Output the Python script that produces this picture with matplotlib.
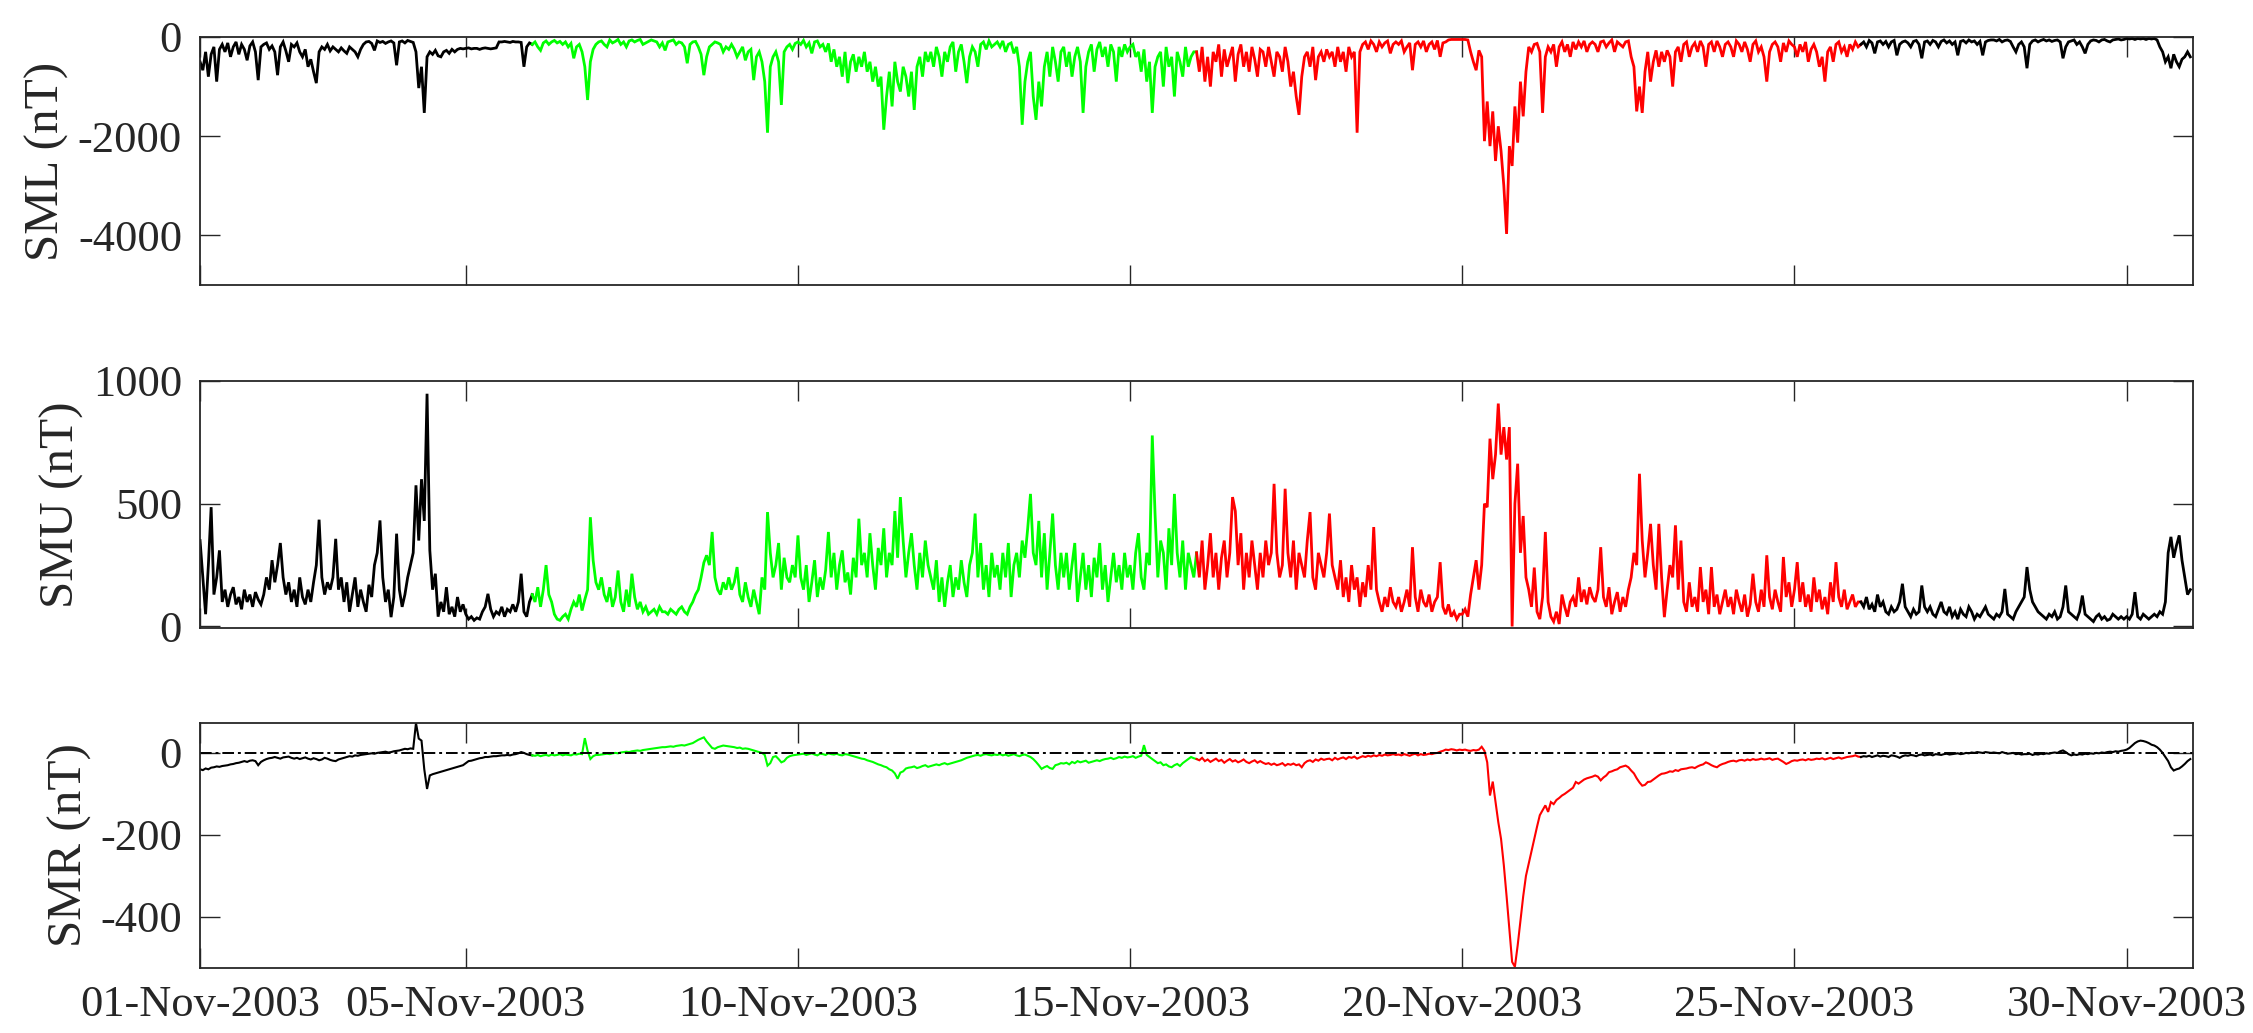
import matplotlib
matplotlib.use("Agg")
import matplotlib.pyplot as plt
import matplotlib.dates as mdates
import numpy as np
import pandas as pd

# ---------------- data (hourly values, one row per day, 01-Nov .. 30-Nov 2003) -------------
SML = [
 [-500,-670,-300,-800,-350,-200,-900,-250,-150,-300,-120,-400,-200,-100,-350,-150,-250,-470,-180,-100,-300,-870,-200,-150],
 [-120,-250,-180,-300,-770,-200,-100,-280,-500,-150,-200,-120,-300,-400,-250,-600,-450,-700,-930,-300,-200,-250,-150,-280],
 [-200,-250,-300,-220,-280,-330,-200,-250,-300,-400,-250,-150,-100,-90,-130,-270,-80,-110,-90,-130,-100,-80,-120,-570],
 [-100,-80,-120,-70,-90,-110,-300,-1030,-600,-1530,-400,-300,-350,-270,-380,-400,-300,-270,-330,-250,-300,-250,-230,-240],
 [-230,-220,-240,-230,-230,-250,-230,-220,-230,-240,-230,-220,-100,-100,-90,-100,-110,-90,-100,-100,-110,-600,-200,-120],
 [-150,-100,-200,-270,-120,-80,-150,-100,-70,-120,-90,-150,-100,-200,-130,-430,-200,-150,-300,-600,-1270,-500,-250,-150],
 [-100,-80,-150,-200,-60,-120,-90,-50,-150,-100,-200,-80,-60,-100,-70,-50,-150,-120,-90,-60,-80,-100,-200,-120],
 [-270,-100,-80,-60,-150,-100,-120,-200,-530,-150,-100,-90,-200,-350,-770,-400,-200,-150,-100,-120,-150,-300,-200,-250],
 [-150,-250,-400,-300,-200,-470,-300,-250,-870,-400,-300,-500,-900,-1930,-600,-400,-300,-500,-1370,-300,-200,-150,-250,-130],
 [-100,-150,-70,-200,-120,-330,-100,-80,-200,-150,-300,-130,-500,-250,-600,-400,-800,-300,-930,-500,-350,-700,-400,-600],
 [-300,-700,-500,-900,-600,-1000,-800,-1870,-1200,-700,-1400,-500,-900,-1100,-600,-800,-1200,-700,-1470,-600,-400,-800,-300,-500],
 [-300,-600,-200,-400,-800,-300,-500,-200,-100,-700,-300,-150,-500,-930,-400,-200,-300,-600,-150,-100,-250,-80,-200,-150],
 [-100,-200,-80,-300,-150,-120,-330,-200,-600,-1770,-900,-500,-300,-1200,-1670,-900,-1400,-600,-300,-800,-200,-500,-900,-300],
 [-200,-600,-300,-800,-400,-200,-500,-1530,-600,-300,-150,-700,-250,-100,-400,-200,-600,-150,-300,-900,-200,-400,-150,-300],
 [-200,-150,-400,-300,-700,-250,-900,-500,-1530,-600,-400,-300,-1000,-200,-600,-400,-1200,-300,-500,-800,-200,-600,-400,-300],
 [-300,-700,-200,-900,-400,-1000,-300,-500,-150,-800,-250,-600,-400,-200,-900,-350,-150,-600,-300,-700,-200,-450,-800,-250],
 [-300,-600,-200,-500,-800,-300,-400,-700,-200,-500,-1000,-700,-1200,-1570,-800,-400,-300,-600,-200,-870,-400,-300,-500,-250],
 [-400,-300,-600,-200,-500,-300,-700,-200,-400,-300,-1930,-300,-150,-100,-250,-80,-150,-300,-100,-200,-120,-80,-330,-150],
 [-100,-150,-80,-300,-200,-120,-670,-150,-100,-200,-80,-300,-150,-100,-250,-70,-400,-120,-100,-60,-50,-50,-50,-50],
 [-50,-50,-60,-300,-500,-670,-270,-400,-2100,-1300,-2200,-1500,-2500,-1800,-2300,-3000,-3970,-2200,-2600,-1400,-2130,-900,-1600,-700],
 [-200,-300,-150,-130,-300,-1530,-400,-200,-300,-150,-600,-200,-100,-300,-150,-400,-100,-250,-100,-200,-80,-300,-150,-100],
 [-150,-300,-100,-80,-200,-120,-60,-300,-100,-150,-200,-100,-80,-400,-600,-1500,-1000,-1530,-700,-300,-900,-500,-270,-600],
 [-300,-500,-270,-400,-1000,-300,-200,-500,-150,-100,-400,-200,-120,-300,-80,-200,-600,-150,-100,-300,-80,-200,-400,-150],
 [-100,-200,-400,-80,-150,-300,-100,-250,-500,-150,-80,-300,-200,-400,-900,-300,-150,-100,-200,-500,-120,-300,-80,-150],
 [-200,-400,-150,-300,-100,-500,-250,-150,-300,-600,-400,-900,-300,-200,-500,-150,-100,-300,-200,-400,-150,-250,-100,-200],
 [-150,-100,-200,-70,-120,-330,-100,-80,-150,-90,-200,-100,-70,-370,-150,-100,-80,-120,-200,-90,-70,-150,-430,-100],
 [-80,-150,-70,-100,-200,-90,-60,-120,-80,-150,-100,-370,-90,-70,-120,-60,-100,-80,-150,-90,-370,-100,-70,-60],
 [-60,-80,-50,-100,-70,-60,-90,-200,-300,-150,-100,-200,-630,-150,-80,-60,-100,-70,-50,-80,-60,-90,-70,-60],
 [-100,-430,-200,-100,-80,-60,-150,-100,-200,-330,-150,-80,-60,-70,-100,-60,-50,-80,-100,-60,-50,-40,-60,-50],
 [-30,-40,-30,-50,-30,-40,-30,-50,-30,-40,-30,-60,-200,-300,-500,-400,-630,-350,-500,-600,-450,-400,-300,-400],
]

SMU = [
 [350,200,50,250,486,130,200,310,100,150,80,130,160,90,120,70,150,100,130,80,140,110,90,130],
 [200,150,270,180,250,340,200,130,180,100,150,80,200,120,90,150,100,180,250,435,200,130,180,150],
 [200,357,150,200,100,180,60,130,200,80,150,100,60,170,120,250,300,432,200,100,150,38,120,378],
 [150,80,130,200,250,300,575,350,600,430,948,310,150,215,40,100,60,160,50,80,40,120,60,90],
 [50,30,40,25,35,30,60,80,133,70,40,60,50,80,40,70,60,90,60,100,215,60,40,100],
 [130,100,160,80,150,250,130,100,50,30,25,40,50,30,70,100,80,130,65,110,150,445,270,180],
 [150,200,130,100,160,80,120,228,100,60,150,80,215,120,70,100,60,80,50,60,70,50,80,60],
 [60,50,70,60,50,70,80,60,50,80,100,130,150,200,260,290,250,385,200,150,130,180,150,200],
 [150,180,242,130,100,180,120,80,150,100,50,200,150,466,300,200,250,340,150,280,200,180,250,200],
 [371,200,150,250,100,180,270,120,200,150,230,385,200,300,150,250,310,180,220,130,280,200,439,250],
 [300,200,380,250,150,320,250,400,200,300,250,470,280,527,350,200,300,380,250,150,300,200,350,250],
 [200,150,270,100,200,80,180,250,120,200,150,270,180,120,250,300,460,200,340,150,250,120,300,200],
 [250,150,300,200,340,120,250,300,200,350,280,400,540,300,250,430,200,380,150,300,460,250,150,300],
 [200,300,150,250,340,100,200,300,150,250,120,280,200,340,150,250,100,200,300,180,250,150,300,200],
 [250,150,300,380,200,150,300,250,778,460,200,350,300,150,400,250,540,300,200,350,150,300,250,200],
 [300,200,350,150,250,380,200,300,150,280,350,200,300,527,470,250,380,150,300,200,350,250,150,300],
 [200,350,250,300,581,300,200,250,561,300,200,350,150,300,250,200,350,466,200,150,300,250,200,300],
 [460,250,200,150,270,120,200,100,250,150,200,80,180,120,250,150,405,150,100,60,120,80,160,100],
 [80,120,60,100,150,80,323,120,60,150,100,80,130,60,100,120,262,80,50,90,40,60,30,50],
 [50,70,40,130,200,270,150,250,500,486,765,600,700,908,700,812,680,812,0,500,663,300,450,200],
 [150,80,240,60,30,120,385,100,40,20,60,10,130,80,40,100,120,80,200,100,150,90,160,120],
 [100,150,323,120,80,160,50,100,140,60,120,80,150,200,300,250,622,350,200,300,418,250,150,418],
 [200,38,150,250,200,412,150,350,100,60,180,80,120,60,242,100,150,50,242,80,130,50,100,150],
 [80,120,50,150,100,60,130,40,90,215,100,60,150,80,290,120,70,150,100,60,283,120,180,80],
 [150,262,100,180,80,130,60,200,100,150,70,120,50,180,100,262,120,80,150,70,100,130,80,100],
 [100,80,120,70,90,60,130,80,100,60,50,80,60,70,100,174,80,60,40,70,50,60,167,80],
 [60,80,50,40,70,100,60,50,80,40,60,30,70,50,40,80,60,30,50,40,60,80,50,40],
 [30,50,40,60,153,50,40,30,60,80,100,120,242,150,100,80,60,50,40,30,50,40,60,30],
 [40,80,167,60,50,40,30,60,126,50,40,30,20,40,50,30,40,25,30,50,40,30,40,30],
 [40,30,50,140,40,30,50,40,30,40,50,40,60,50,100,300,365,280,330,371,270,200,130,150],
]

SMR = [
 [-40,-42,-38,-40,-36,-35,-33,-34,-32,-31,-30,-28,-27,-25,-24,-22,-20,-22,-19,-18,-20,-30,-22,-18],
 [-15,-13,-12,-10,-12,-14,-11,-10,-9,-12,-14,-12,-15,-13,-11,-14,-16,-13,-15,-18,-16,-12,-14,-17],
 [-19,-20,-16,-14,-12,-10,-8,-9,-6,-7,-5,-4,-3,-2,-1,-2,0,1,2,3,1,2,4,5],
 [6,8,10,9,11,10,73,35,30,-40,-88,-55,-52,-50,-48,-46,-44,-42,-40,-38,-36,-34,-32,-30],
 [-25,-20,-19,-17,-15,-13,-12,-10,-10,-9,-8,-8,-7,-6,-6,-5,-6,-4,-3,-1,2,0,-3,-5],
 [-6,-7,-5,-8,-6,-5,-7,-4,-6,-5,-3,-6,-4,-5,-6,-3,-4,-2,-3,36,5,-15,-8,-5],
 [-5,-4,-3,-2,-3,-1,0,-1,1,2,3,2,4,5,6,5,7,8,9,10,11,12,13,14],
 [14,15,16,15,17,18,19,18,20,22,24,28,32,35,38,28,20,12,10,14,16,18,17,16],
 [15,14,12,13,10,11,10,8,6,4,2,0,-5,-31,-25,-10,-8,-15,-23,-20,-12,-8,-6,-5],
 [-4,-3,-2,-5,-3,-1,-4,-6,-2,-3,-5,-1,-3,-4,-2,-5,-6,-3,-4,-6,-8,-10,-12,-14],
 [-15,-18,-20,-22,-25,-28,-30,-33,-35,-40,-43,-50,-63,-48,-45,-38,-36,-35,-33,-37,-35,-32,-30,-34],
 [-32,-30,-28,-30,-27,-25,-28,-26,-24,-22,-20,-18,-15,-12,-10,-8,-6,-5,-7,-4,-3,-5,-6,-4],
 [-5,-3,-6,-4,-7,-5,-3,-6,-8,-5,-4,-7,-10,-15,-22,-30,-39,-35,-32,-37,-39,-30,-28,-25],
 [-26,-24,-28,-22,-25,-20,-23,-21,-19,-24,-22,-20,-18,-20,-17,-15,-14,-12,-15,-13,-10,-12,-9,-11],
 [-10,-8,-12,-9,-7,19,-5,-10,-15,-20,-25,-23,-30,-28,-33,-35,-30,-27,-32,-25,-20,-15,-10,-13],
 [-15,-18,-12,-20,-16,-22,-18,-14,-20,-17,-24,-19,-15,-21,-18,-23,-20,-16,-22,-25,-21,-18,-24,-20],
 [-24,-27,-25,-29,-26,-30,-28,-25,-31,-27,-29,-26,-30,-28,-35,-25,-20,-18,-22,-16,-19,-14,-17,-15],
 [-14,-18,-12,-16,-13,-11,-15,-10,-12,-9,-14,-11,-8,-10,-7,-9,-6,-8,-5,-7,-4,-6,-5,-3],
 [-5,-4,-6,-3,-5,-7,-4,-2,-6,-3,-5,-4,-2,-3,-1,0,3,5,8,7,9,8,6,8],
 [7,8,6,5,7,6,8,15,5,-23,-104,-70,-120,-169,-210,-274,-350,-430,-510,-522,-470,-410,-350,-300],
 [-270,-240,-209,-180,-152,-140,-128,-144,-120,-125,-115,-110,-104,-100,-95,-90,-85,-71,-75,-70,-65,-62,-60,-58],
 [-55,-58,-67,-60,-55,-47,-45,-42,-40,-35,-33,-31,-35,-43,-50,-62,-72,-80,-78,-71,-70,-65,-60,-55],
 [-51,-50,-48,-45,-46,-42,-44,-40,-39,-38,-36,-35,-37,-33,-30,-28,-23,-26,-30,-33,-35,-30,-27,-25],
 [-22,-20,-19,-21,-18,-17,-19,-16,-18,-15,-17,-16,-14,-16,-15,-13,-17,-15,-14,-18,-22,-27,-24,-20],
 [-18,-19,-17,-16,-18,-15,-17,-16,-14,-15,-13,-16,-14,-12,-15,-13,-11,-14,-12,-10,-9,-8,-6,-9],
 [-10,-8,-9,-7,-10,-8,-6,-9,-7,-8,-10,-6,-7,-9,-12,-8,-6,-7,-5,-6,-8,-5,-4,-6],
 [-5,-4,-6,-3,-4,-5,-3,-2,-4,-3,-2,-1,-3,-2,0,-1,1,0,2,1,0,2,1,0],
 [1,0,-1,2,0,-2,-1,0,-3,-2,-4,-3,-3,-2,-5,-3,-4,-2,-3,-1,-2,0,1,0],
 [4,6,2,-3,-6,-4,-5,-3,-4,-2,-3,-1,-2,0,-1,1,0,2,3,2,4,3,5,6],
 [8,12,18,24,28,30,29,27,24,20,18,14,8,0,-10,-20,-35,-43,-40,-38,-33,-27,-20,-15],
]

START = "2003-11-01"
# interval boundaries (colour changes): black / green / red / black
SEG_EDGES = ["2003-11-01", "2003-11-06", "2003-11-16", "2003-11-26", "2003-12-01"]
SEG_COLORS = ["black", "#00ff00", "#ff0000", "black"]
TICK_DATES = ["2003-11-01", "2003-11-05", "2003-11-10", "2003-11-15",
              "2003-11-20", "2003-11-25", "2003-11-30"]
YLABELS = ["SML (nT)", "SMU (nT)", "SMR (nT)"]

# ---------------------------------------------------------------------------------------------
plt.rcParams["font.family"] = ["Liberation Serif", "DejaVu Serif"]
plt.rcParams["axes.unicode_minus"] = False

sml = np.array(SML, dtype=float).ravel()
smu = np.array(SMU, dtype=float).ravel()
smr = np.array(SMR, dtype=float).ravel()
t = pd.date_range(START, periods=len(sml), freq="h")

fig = plt.figure(figsize=(22.53, 10.33), dpi=100)
L, W = 0.0888, 0.8846
axes = [fig.add_axes([L, 0.7241, W, 0.2401]),
        fig.add_axes([L, 0.3921, W, 0.2391]),
        fig.add_axes([L, 0.0629, W, 0.2372])]

frame_col = "#262626"
edges = pd.to_datetime(SEG_EDGES)
series = [sml, smu, smr]
lws = [2.0, 2.0, 1.5]
for ax, y, lw in zip(axes, series, lws):
    for i, c in enumerate(SEG_COLORS):
        m = (t >= edges[i]) & (t <= edges[i + 1])
        ax.plot(t[m], y[m], color=c, lw=lw, solid_joinstyle="miter")

axes[2].axhline(0, color="black", lw=1.4, ls=(0, (6, 2, 1.5, 2)))

axes[0].set_ylim(-5000, 0)
axes[0].set_yticks([-4000, -2000, 0])
axes[1].set_ylim(-6, 1000)
axes[1].set_yticks([0, 500, 1000])
axes[2].set_ylim(-525, 73)
axes[2].set_yticks([-400, -200, 0])

ticks = pd.to_datetime(TICK_DATES)
for k, ax in enumerate(axes):
    ax.set_xlim(pd.Timestamp("2003-11-01"), pd.Timestamp("2003-12-01"))
    ax.set_xticks(ticks)
    ax.xaxis.set_major_formatter(mdates.DateFormatter("%d-%b-%Y"))
    ax.tick_params(axis="both", direction="in", length=14.5, width=1.0,
                   colors=frame_col, labelsize=32, top=True, right=True)
    ax.tick_params(axis="y", pad=13)
    ax.tick_params(axis="x", pad=12)
    if k < 2:
        ax.tick_params(axis="x", labelbottom=False)
    for s in ax.spines.values():
        s.set_color(frame_col)
        s.set_linewidth(1.3)
    ax.set_ylabel(YLABELS[k], fontsize=35.5, color=frame_col, labelpad=6)
    ax.minorticks_off()

fig.savefig("out.png", dpi=100, facecolor="white")
